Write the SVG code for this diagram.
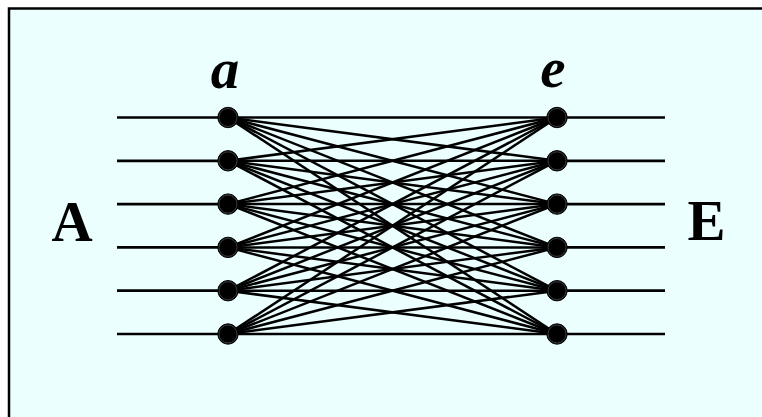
<svg xmlns="http://www.w3.org/2000/svg" width="762" height="417" viewBox="0 0 762 417">
<style>
.lbl{font-family:"Liberation Serif","Times New Roman",serif;font-weight:bold;font-size:57px;fill:#000;text-anchor:middle}
.it{font-style:italic}
.h{stroke:#000;stroke-width:2.7;fill:none}
.f{stroke:#000;stroke-width:2.5;fill:none}
.dot{fill:#000;stroke:#000;stroke-width:1}
.ring{fill:none;stroke:#555;stroke-width:0.7}
</style>
<defs>
<g id="node"><circle class="dot" r="10.2"/><circle class="ring" r="9"/></g>
</defs>
<rect x="9" y="8.5" width="780" height="440" fill="#EBFFFF" stroke="#000" stroke-width="2.5"/>
<g id="connectors">
<g id="left-lines">
<line class="h" x1="117" y1="117.5" x2="228" y2="117.5"/>
<line class="h" x1="117" y1="160.8" x2="228" y2="160.8"/>
<line class="h" x1="117" y1="204.1" x2="228" y2="204.1"/>
<line class="h" x1="117" y1="247.4" x2="228" y2="247.4"/>
<line class="h" x1="117" y1="290.7" x2="228" y2="290.7"/>
<line class="h" x1="117" y1="334" x2="228" y2="334"/>
</g>
<g id="right-lines">
<line class="h" x1="557" y1="117.5" x2="665" y2="117.5"/>
<line class="h" x1="557" y1="160.8" x2="665" y2="160.8"/>
<line class="h" x1="557" y1="204.1" x2="665" y2="204.1"/>
<line class="h" x1="557" y1="247.4" x2="665" y2="247.4"/>
<line class="h" x1="557" y1="290.7" x2="665" y2="290.7"/>
<line class="h" x1="557" y1="334" x2="665" y2="334"/>
</g>
<g id="fan">
<line class="f" x1="228" y1="117.5" x2="557" y2="117.5"/>
<line class="f" x1="228" y1="117.5" x2="557" y2="160.8"/>
<line class="f" x1="228" y1="117.5" x2="557" y2="204.1"/>
<line class="f" x1="228" y1="117.5" x2="557" y2="247.4"/>
<line class="f" x1="228" y1="117.5" x2="557" y2="290.7"/>
<line class="f" x1="228" y1="117.5" x2="557" y2="334"/>
<line class="f" x1="228" y1="160.8" x2="557" y2="117.5"/>
<line class="f" x1="228" y1="160.8" x2="557" y2="160.8"/>
<line class="f" x1="228" y1="160.8" x2="557" y2="204.1"/>
<line class="f" x1="228" y1="160.8" x2="557" y2="247.4"/>
<line class="f" x1="228" y1="160.8" x2="557" y2="290.7"/>
<line class="f" x1="228" y1="160.8" x2="557" y2="334"/>
<line class="f" x1="228" y1="204.1" x2="557" y2="117.5"/>
<line class="f" x1="228" y1="204.1" x2="557" y2="160.8"/>
<line class="f" x1="228" y1="204.1" x2="557" y2="204.1"/>
<line class="f" x1="228" y1="204.1" x2="557" y2="247.4"/>
<line class="f" x1="228" y1="204.1" x2="557" y2="290.7"/>
<line class="f" x1="228" y1="204.1" x2="557" y2="334"/>
<line class="f" x1="228" y1="247.4" x2="557" y2="117.5"/>
<line class="f" x1="228" y1="247.4" x2="557" y2="160.8"/>
<line class="f" x1="228" y1="247.4" x2="557" y2="204.1"/>
<line class="f" x1="228" y1="247.4" x2="557" y2="247.4"/>
<line class="f" x1="228" y1="247.4" x2="557" y2="290.7"/>
<line class="f" x1="228" y1="247.4" x2="557" y2="334"/>
<line class="f" x1="228" y1="290.7" x2="557" y2="117.5"/>
<line class="f" x1="228" y1="290.7" x2="557" y2="160.8"/>
<line class="f" x1="228" y1="290.7" x2="557" y2="204.1"/>
<line class="f" x1="228" y1="290.7" x2="557" y2="247.4"/>
<line class="f" x1="228" y1="290.7" x2="557" y2="290.7"/>
<line class="f" x1="228" y1="290.7" x2="557" y2="334"/>
<line class="f" x1="228" y1="334" x2="557" y2="117.5"/>
<line class="f" x1="228" y1="334" x2="557" y2="160.8"/>
<line class="f" x1="228" y1="334" x2="557" y2="204.1"/>
<line class="f" x1="228" y1="334" x2="557" y2="247.4"/>
<line class="f" x1="228" y1="334" x2="557" y2="290.7"/>
<line class="f" x1="228" y1="334" x2="557" y2="334"/>
</g>
</g>
<g id="a-nodes">
<use id="a1" href="#node" x="228" y="117.5"/>
<use id="a2" href="#node" x="228" y="160.8"/>
<use id="a3" href="#node" x="228" y="204.1"/>
<use id="a4" href="#node" x="228" y="247.4"/>
<use id="a5" href="#node" x="228" y="290.7"/>
<use id="a6" href="#node" x="228" y="334"/>
</g>
<g id="e-nodes">
<use id="e1" href="#node" x="557" y="117.5"/>
<use id="e2" href="#node" x="557" y="160.8"/>
<use id="e3" href="#node" x="557" y="204.1"/>
<use id="e4" href="#node" x="557" y="247.4"/>
<use id="e5" href="#node" x="557" y="290.7"/>
<use id="e6" href="#node" x="557" y="334"/>
</g>
<g id="label-a"><text class="lbl it" x="225" y="88">a</text></g>
<g id="label-e"><text class="lbl it" x="553" y="87">e</text></g>
<g id="label-A"><text class="lbl" x="72" y="241">A</text></g>
<g id="label-E"><text class="lbl" x="706.5" y="240">E</text></g>
</svg>
